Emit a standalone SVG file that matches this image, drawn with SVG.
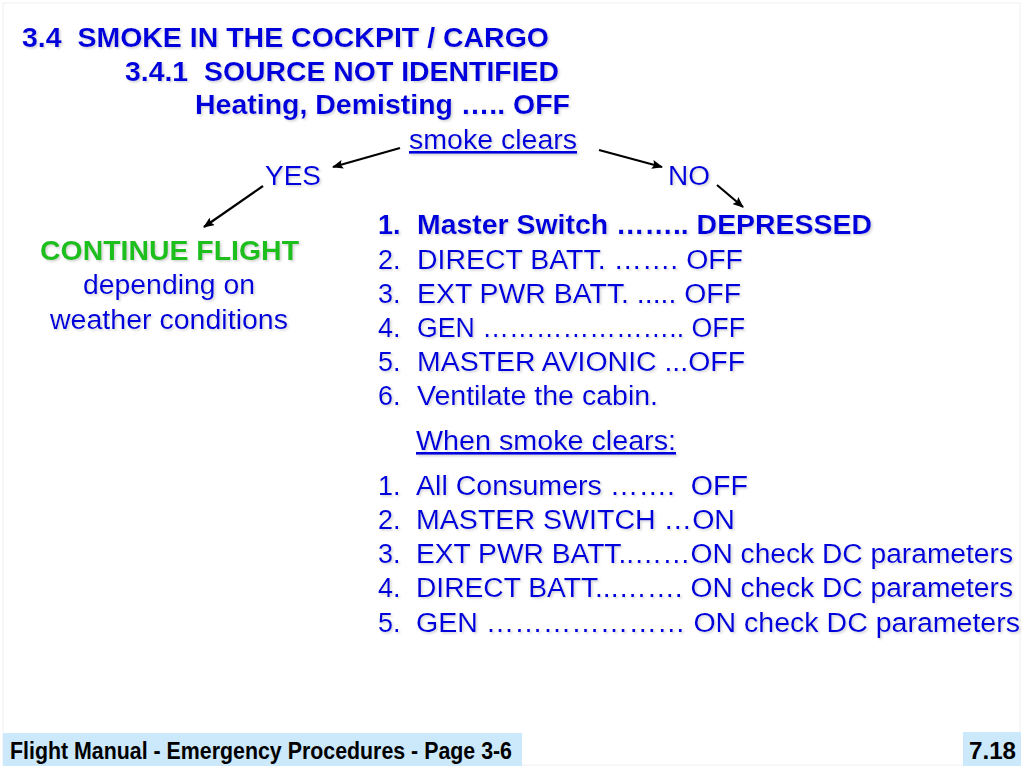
<svg xmlns="http://www.w3.org/2000/svg" width="1024" height="767" viewBox="0 0 1024 767">
<defs>
<style>
.t{font-family:"Liberation Sans",Arial,sans-serif;fill:#0000dd;white-space:pre;font-size:27px;filter:url(#sh)}
.b{font-weight:bold}
.u{text-decoration:underline}
.g{fill:#1fbf1f}
.f{font-family:"Liberation Sans",Arial,sans-serif;font-weight:bold;font-size:23px;fill:#000;white-space:pre}
.c{stroke:#000;stroke-width:2.2;fill:none;marker-end:url(#ah)}
</style>
<filter id="sh" x="-5%" y="-20%" width="110%" height="150%">
<feDropShadow dx="1.5" dy="1.5" stdDeviation="1" flood-color="#999" flood-opacity="0.45"/>
</filter>
<marker id="ah" markerWidth="11" markerHeight="9" refX="10" refY="4.5" orient="auto" markerUnits="userSpaceOnUse">
<path d="M0,0 L11,4.5 L0,9 L2,4.5 z" fill="#000"/>
</marker>
</defs>
<rect width="1024" height="767" fill="#fff"/>
<rect x="3" y="3" width="1017" height="762" fill="none" stroke="#f0f0f0" stroke-width="1"/>

<g id="header">
<text class="t b" x="22" y="47" textLength="527" lengthAdjust="spacingAndGlyphs">3.4  SMOKE IN THE COCKPIT / CARGO</text>
<text class="t b" x="125" y="81" textLength="434" lengthAdjust="spacingAndGlyphs">3.4.1  SOURCE NOT IDENTIFIED</text>
<text class="t b" x="195" y="114" textLength="375" lengthAdjust="spacingAndGlyphs">Heating, Demisting ….. OFF</text>
</g>
<g id="decision"><text class="t u" x="409" y="149" textLength="168" lengthAdjust="spacingAndGlyphs">smoke clears</text></g>
<g id="yes"><text class="t" x="265" y="185" textLength="56" lengthAdjust="spacingAndGlyphs">YES</text></g>
<g id="no"><text class="t" x="668" y="185" textLength="42" lengthAdjust="spacingAndGlyphs">NO</text></g>
<g id="continue">
<text class="t b g" x="40" y="260" textLength="259" lengthAdjust="spacingAndGlyphs">CONTINUE FLIGHT</text>
<text class="t" x="83" y="294" textLength="172" lengthAdjust="spacingAndGlyphs">depending on</text>
<text class="t" x="50" y="329" textLength="238" lengthAdjust="spacingAndGlyphs">weather conditions</text>
</g>
<g id="actions">
<text class="t b" x="378" y="234">1.</text><text class="t b" x="417" y="234" textLength="455" lengthAdjust="spacingAndGlyphs">Master Switch …….. DEPRESSED</text>
<text class="t" x="378" y="269">2.</text><text class="t" x="417" y="269" textLength="326" lengthAdjust="spacingAndGlyphs">DIRECT BATT. ……. OFF</text>
<text class="t" x="378" y="303">3.</text><text class="t" x="417" y="303" textLength="324" lengthAdjust="spacingAndGlyphs">EXT PWR BATT. ..... OFF</text>
<text class="t" x="378" y="337">4.</text><text class="t" x="417" y="337" textLength="328" lengthAdjust="spacingAndGlyphs">GEN ………………….. OFF</text>
<text class="t" x="378" y="371">5.</text><text class="t" x="417" y="371" textLength="328" lengthAdjust="spacingAndGlyphs">MASTER AVIONIC ...OFF</text>
<text class="t" x="378" y="405">6.</text><text class="t" x="417" y="405" textLength="241" lengthAdjust="spacingAndGlyphs">Ventilate the cabin.</text>
</g>
<g id="when-clears">
<text class="t u" x="416" y="450" textLength="260" lengthAdjust="spacingAndGlyphs">When smoke clears:</text>
<text class="t" x="378" y="495">1.</text><text class="t" x="416" y="495" textLength="332" lengthAdjust="spacingAndGlyphs">All Consumers …….  OFF</text>
<text class="t" x="378" y="529">2.</text><text class="t" x="416" y="529" textLength="319" lengthAdjust="spacingAndGlyphs">MASTER SWITCH …ON</text>
<text class="t" x="378" y="563">3.</text><text class="t" x="416" y="563" textLength="597" lengthAdjust="spacingAndGlyphs">EXT PWR BATT..……ON check DC parameters</text>
<text class="t" x="378" y="597">4.</text><text class="t" x="416" y="597" textLength="597" lengthAdjust="spacingAndGlyphs">DIRECT BATT...……. ON check DC parameters</text>
<text class="t" x="378" y="632">5.</text><text class="t" x="416" y="632" textLength="604" lengthAdjust="spacingAndGlyphs">GEN ………………… ON check DC parameters</text>
</g>
<g id="connectors">
<line class="c" x1="400" y1="148" x2="333" y2="167"/>
<line class="c" x1="263" y1="186" x2="204" y2="227"/>
<line class="c" x1="599" y1="150" x2="662" y2="167"/>
<line class="c" x1="717" y1="185" x2="743" y2="207"/>
</g>
<g id="footer">
<rect x="3" y="733" width="519" height="33" fill="#cce8fb"/>
<text class="f" x="10" y="759" textLength="502" lengthAdjust="spacingAndGlyphs">Flight Manual - Emergency Procedures - Page 3-6</text>
<rect x="963" y="732" width="58" height="34" fill="#cce8fb"/>
<text class="f" x="969" y="759" textLength="47" lengthAdjust="spacingAndGlyphs">7.18</text>
</g>
</svg>
